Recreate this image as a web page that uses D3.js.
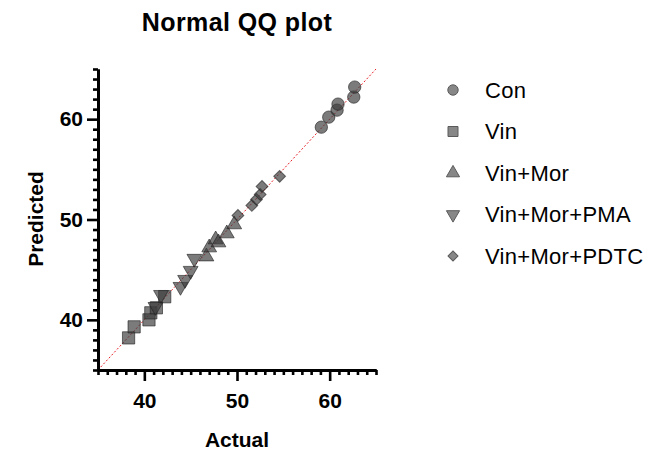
<!DOCTYPE html>
<html><head><meta charset="utf-8">
<script src="https://cdn.jsdelivr.net/npm/d3@7"></script>
<style>body{margin:0;background:#fff}svg{display:block}text{font-family:"Liberation Sans",Arial,sans-serif}</style>
</head><body><svg id="c" width="661" height="454"></svg>
<script>
const seriesNames = ["Con","Vin","Vin+Mor","Vin+Mor+PMA","Vin+Mor+PDTC"];
const conActual = [59.1,59.9,60.8,60.9,62.6,62.7];
const conPred   = [59.2,60.2,60.9,61.5,62.2,63.2];
const vinActual = [38.3,38.9,40.5,40.7,41.3,42.2];
const vinPred   = [38.2,39.3,40.0,40.7,41.2,42.3];
const vmActual  = [46.7,47.0,47.7,48.0,48.9,49.7];
const vmPred    = [46.3,47.2,48.0,47.7,48.6,49.5];
const pmaActual = [41.2,41.8,43.9,44.4,45.0,45.4];
const pmaPred   = [41.3,42.5,43.3,44.0,44.9,46.1];
const pdtcActual= [50.1,51.6,52.1,52.5,52.7,54.6];
const pdtcPred  = [50.4,51.4,52.0,52.5,53.3,54.3];
const majorTicks = [40,50,60];
const domain = [35,65];

const svg = d3.select("#c");
const x = d3.scaleLinear().domain(domain).range([98,376]);
const y = d3.scaleLinear().domain(domain).range([370,69]);

const groups = [
  {name:seriesNames[0], a:conActual, p:conPred, type:d3.symbolCircle, size:120, rot:0},
  {name:seriesNames[1], a:vinActual, p:vinPred, type:d3.symbolSquare, size:150, rot:0},
  {name:seriesNames[2], a:vmActual, p:vmPred, type:d3.symbolTriangle, size:95, rot:0},
  {name:seriesNames[3], a:pmaActual, p:pmaPred, type:d3.symbolTriangle, size:95, rot:180},
  {name:seriesNames[4], a:pdtcActual, p:pdtcPred, type:d3.symbolSquare, size:70, rot:45}
];

// identity line
svg.append("line").attr("x1",x(domain[0])).attr("y1",y(domain[0])).attr("x2",x(domain[1])).attr("y2",y(domain[1]))
  .attr("stroke","#e8202a").attr("stroke-width",1).attr("stroke-dasharray","2,2");

// points
groups.forEach(g=>{
  svg.append("g").selectAll("path").data(g.a.map((v,i)=>[v,g.p[i]])).join("path")
    .attr("d",d3.symbol().type(g.type).size(g.size))
    .attr("transform",d=>`translate(${x(d[0])},${y(d[1])}) rotate(${g.rot})`)
    .attr("fill","rgba(60,60,60,0.68)").attr("stroke","rgba(30,30,30,0.6)").attr("stroke-width",1);
});

// axes
const minor = d3.range(35,66);
const FONT = "Liberation Sans, Arial";
function styleAxis(g){g.select(".domain").attr("stroke-width",3).attr("stroke","#000");g.selectAll(".tick line").attr("stroke-width",2.6).attr("stroke","#000");}
svg.append("g").attr("transform","translate(0,370)")
  .call(d3.axisBottom(x).tickValues(minor.filter(v=>!majorTicks.includes(v))).tickSize(5).tickSizeOuter(0).tickFormat(""))
  .call(styleAxis);
svg.append("g").attr("transform","translate(0,370)")
  .call(d3.axisBottom(x).tickValues(majorTicks).tickSize(11).tickSizeOuter(0).tickPadding(12))
  .call(styleAxis)
  .call(g=>g.selectAll("text").attr("font-size",21).attr("font-weight","bold").attr("fill","#000").attr("font-family",FONT));
svg.append("g").attr("transform","translate(98,0)")
  .call(d3.axisLeft(y).tickValues(minor.filter(v=>!majorTicks.includes(v))).tickSize(5).tickSizeOuter(0).tickFormat(""))
  .call(styleAxis);
svg.append("g").attr("transform","translate(98,0)")
  .call(d3.axisLeft(y).tickValues(majorTicks).tickSize(11).tickSizeOuter(0).tickPadding(4))
  .call(styleAxis)
  .call(g=>g.selectAll("text").attr("font-size",21).attr("font-weight","bold").attr("fill","#000").attr("font-family",FONT));

// titles
svg.append("text").attr("x",237).attr("y",31).attr("text-anchor","middle").attr("font-size",25).attr("font-weight","bold").attr("letter-spacing",0.4).text("Normal QQ plot");
svg.append("text").attr("x",237).attr("y",447).attr("text-anchor","middle").attr("font-size",21).attr("font-weight","bold").text("Actual");
svg.append("text").attr("transform","translate(43,219) rotate(-90)").attr("text-anchor","middle").attr("font-size",21).attr("font-weight","bold").text("Predicted");

// legend
const leg = svg.append("g");
const legSizes = [85,100,75,75,50];
groups.forEach((g,i)=>{
  const yy = 90 + i*41.5;
  leg.append("path").attr("d",d3.symbol().type(g.type).size(legSizes[i]))
    .attr("transform",`translate(453,${yy}) rotate(${g.rot})`)
    .attr("fill","#878787").attr("stroke","#5a5a5a").attr("stroke-width",1);
  leg.append("text").attr("x",485).attr("y",yy).attr("dy","0.36em").attr("font-size",22).attr("letter-spacing",0.3).text(g.name);
});
</script></body></html>
